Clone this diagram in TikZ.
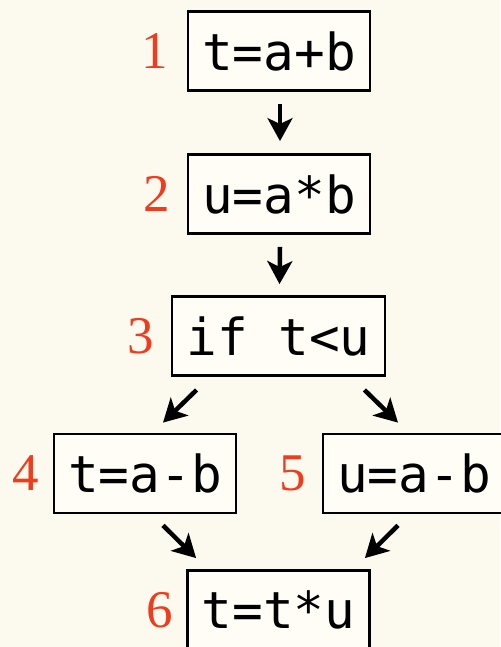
\documentclass[tikz,border=0pt]{standalone}
\usepackage{fontspec}
\newfontfamily\monofont{DejaVu Sans Mono}
\newfontfamily\numfont{Liberation Serif}
\usetikzlibrary{arrows.meta}
\definecolor{bgc}{RGB}{252,250,238}
\definecolor{boxc}{RGB}{255,253,246}
\definecolor{numred}{RGB}{240,60,30}
\tikzset{
  codebox/.style={draw=black, fill=boxc, line width=2.8pt, rectangle,
    minimum height=79pt, inner xsep=0pt, inner ysep=0pt,
    font=\monofont\fontsize{51}{51}\selectfont},
  numlabel/.style={text=numred, anchor=east, inner sep=0pt,
    font=\numfont\fontsize{53}{53}\selectfont},
  flow/.style={line width=4.5pt, -{Stealth[length=23pt,width=25pt,inset=6pt]}}
}
\begin{document}
\begin{tikzpicture}[x=1pt,y=-1pt]
\useasboundingbox (0,0) rectangle (500,647);
\fill[bgc] (0,0) rectangle (500,647);
\node[codebox, minimum width=182pt] (b1) at (279,51) {t=a+b};
\node[codebox, minimum width=182pt] (b2) at (279,194) {u=a*b};
\node[codebox, minimum width=213pt] (b3) at (278.5,336) {if t<u};
\node[codebox, minimum width=182pt] (b4) at (145,473.5) {t=a-b};
\node[codebox, minimum width=182pt] (b5) at (414,473.5) {u=a-b};
\node[codebox, minimum width=182pt] (b6) at (278.5,610) {t=t*u};
\node[numlabel] (n1) at ([xshift=-18pt]b1.west) {1};
\node[numlabel] (n2) at ([xshift=-16pt]b2.west) {2};
\node[numlabel] (n3) at ([xshift=-16pt]b3.west) {3};
\node[numlabel] (n4) at ([xshift=-13pt]b4.west) {4};
\node[numlabel] (n5) at ([xshift=-15pt]b5.west) {5};
\node[numlabel] (n6) at ([xshift=-13pt]b6.west) {6};
\draw[flow] ([xshift=1pt,yshift=-12pt]b1.south) -- ([xshift=1pt,yshift=12pt]b2.north);
\draw[flow] ([xshift=1pt,yshift=-12pt]b2.south) -- ([xshift=1pt,yshift=11pt]b3.north);
\draw[flow] ([xshift=26pt,yshift=-13pt]b3.south west) -- ([xshift=18pt,yshift=10pt]b4.north);
\draw[flow] ([xshift=-22pt,yshift=-13pt]b3.south east) -- ([xshift=-16pt,yshift=10pt]b5.north);
\draw[flow] ([xshift=18pt,yshift=-11pt]b4.south) -- ([xshift=10pt,yshift=11pt]b6.north west);
\draw[flow] ([xshift=-16pt,yshift=-11pt]b5.south) -- ([xshift=-6pt,yshift=11pt]b6.north east);
\end{tikzpicture}
\end{document}
